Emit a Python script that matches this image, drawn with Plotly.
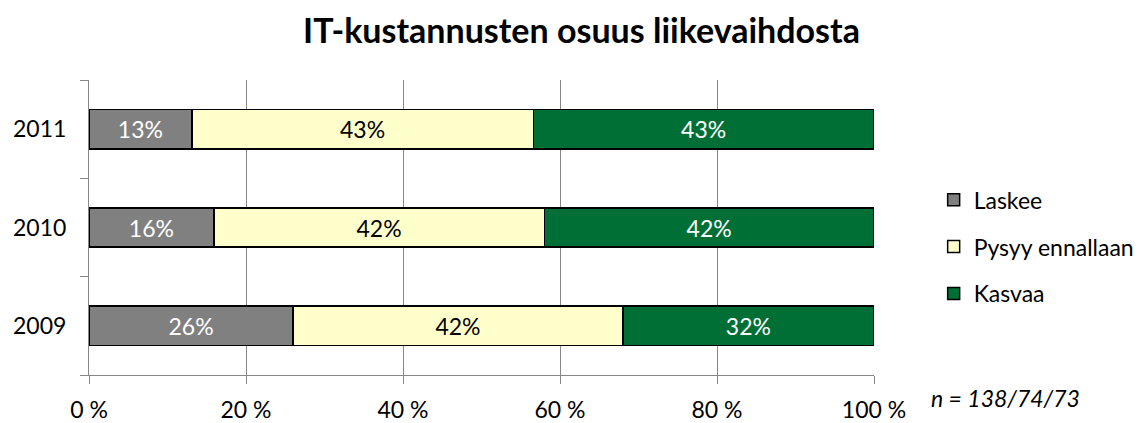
import plotly.graph_objects as go

years = ["2009", "2010", "2011"]
laskee = [26.0, 15.9, 13.1]
pysyy = [42.0, 42.1, 43.5]
kasvaa = [32.0, 42.0, 43.4]
laskee_lbl = ["26%", "16%", "13%"]
pysyy_lbl = ["42%", "42%", "43%"]
kasvaa_lbl = ["32%", "42%", "43%"]
x_ticks = [0, 20, 40, 60, 80, 100]
x_tick_text = ["0 %", "20 %", "40 %", "60 %", "80 %", "100 %"]

FONT = "Lato, 'Open Sans', sans-serif"

series = [
    ("Laskee", laskee, laskee_lbl, "#808080", "white"),
    ("Pysyy ennallaan", pysyy, pysyy_lbl, "#FFFFCC", "black"),
    ("Kasvaa", kasvaa, kasvaa_lbl, "#006F35", "white"),
]

fig = go.Figure()
for name, vals, lbls, col, tcol in series:
    fig.add_trace(go.Bar(
        y=years, x=vals, name=name, orientation="h",
        text=lbls, textposition="inside", insidetextanchor="middle",
        textfont=dict(color=tcol, size=23, family=FONT),
        marker=dict(color=col, line=dict(color="black", width=1.5)),
        width=0.4, legendgroup=name, hoverinfo="skip",
    ))

fig.update_layout(
    width=1147, height=423,
    barmode="stack",
    plot_bgcolor="white", paper_bgcolor="white",
    margin=dict(l=81, r=281, t=72, b=56, autoexpand=False),
    font=dict(family=FONT, size=23, color="black"),
    title=dict(text="<b>IT-kustannusten osuus liikevaihdosta</b>",
               x=0.5, xanchor="center", y=0.945, yanchor="middle",
               font=dict(size=34, family=FONT)),
    legend=dict(x=1.076, xanchor="left", y=0.435, yanchor="middle",
                traceorder="grouped", tracegroupgap=14,
                font=dict(size=23), itemwidth=30),
    uniformtext=dict(minsize=10),
    annotations=[dict(text="<i>n = 138/74/73</i>", xref="paper", yref="paper",
                      x=1.07, y=-0.025, xanchor="left", yanchor="top",
                      showarrow=False, font=dict(size=23))],
)
fig.update_xaxes(range=[0, 100], tickvals=x_ticks, ticktext=x_tick_text,
                 showgrid=True, gridcolor="#878787", gridwidth=1,
                 showline=True, linecolor="#878787",
                 ticks="outside", ticklen=8, tickcolor="#878787",
                 ticklabelstandoff=6,
                 zeroline=False, tickfont=dict(size=23))
fig.update_yaxes(type="category", categoryorder="array", categoryarray=years,
                 range=[-0.5, 2.5], tickson="boundaries",
                 showline=True, linecolor="#878787",
                 ticks="outside", ticklen=8, tickcolor="#878787",
                 ticklabelstandoff=17,
                 showgrid=False, tickfont=dict(size=23))

fig.write_html("out.html")
